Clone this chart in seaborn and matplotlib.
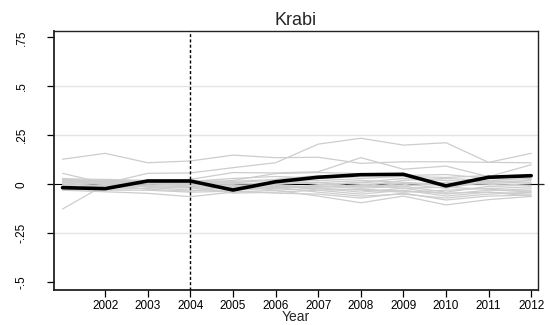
import numpy as np
import pandas as pd
import matplotlib
matplotlib.use("Agg")
import matplotlib.pyplot as plt
import seaborn as sns

years = list(range(2001, 2013))

treated = [-0.017, -0.022, 0.017, 0.017, -0.029, 0.013, 0.036, 0.049, 0.051, -0.008, 0.036, 0.044]

placebo_a = [0.128, 0.158, 0.110, 0.119, 0.149, 0.136, 0.138, 0.107, 0.115, 0.115, 0.112, 0.110]
placebo_b = [0.056, 0.005, 0.056, 0.058, 0.085, 0.110, 0.205, 0.235, 0.200, 0.212, 0.112, 0.158]
placebo_c = [0.030, 0.010, 0.020, 0.025, 0.060, 0.058, 0.064, 0.136, 0.077, 0.093, 0.039, 0.100]
placebo_d = [-0.126, -0.002, 0.010, 0.005, 0.020, 0.055, 0.060, 0.055, 0.045, 0.050, 0.030, 0.040]
placebo_e = [-0.030, -0.038, -0.046, -0.063, -0.040, -0.030, -0.060, -0.094, -0.060, -0.105, -0.078, -0.062]
placebo_f = [0.025, 0.015, 0.005, -0.010, -0.015, 0.000, -0.030, -0.050, -0.030, -0.060, -0.040, -0.050]
placebo_g = [0.020, 0.018, 0.010, 0.000, 0.000, 0.010, 0.020, 0.010, 0.030, 0.020, 0.010, 0.020]
placebo_h = [0.015, 0.012, -0.010, -0.020, -0.020, -0.010, -0.020, -0.030, -0.040, -0.030, -0.020, -0.030]
placebo_i = [0.010, 0.005, 0.000, 0.010, 0.005, 0.000, 0.010, 0.000, -0.010, 0.010, 0.000, -0.010]
placebo_j = [0.005, 0.020, 0.015, 0.005, -0.010, -0.020, -0.010, -0.020, -0.010, -0.040, -0.010, -0.020]
placebo_k = [0.000, -0.005, 0.005, -0.005, -0.025, -0.015, -0.040, -0.060, -0.050, -0.070, -0.050, -0.040]
placebo_l = [-0.005, 0.010, -0.015, -0.030, -0.030, -0.020, -0.005, 0.010, 0.000, -0.020, 0.015, 0.005]
placebo_m = [-0.010, -0.015, -0.005, 0.000, 0.010, 0.020, 0.000, -0.010, 0.020, 0.030, 0.020, 0.010]
placebo_n = [-0.015, -0.025, -0.020, -0.015, -0.005, -0.030, -0.020, -0.040, -0.020, -0.050, -0.030, -0.035]
placebo_o = [-0.020, 0.000, 0.010, 0.015, 0.030, 0.040, 0.030, 0.020, 0.010, 0.000, 0.020, 0.030]
placebo_p = [0.028, 0.025, 0.020, 0.015, 0.010, -0.005, -0.015, -0.005, -0.020, -0.015, -0.025, -0.040]
placebo_q = [-0.025, -0.030, -0.030, -0.040, -0.035, -0.045, -0.050, -0.070, -0.045, -0.080, -0.060, -0.055]
placebo_r = [0.018, 0.000, -0.025, -0.035, -0.010, 0.005, 0.010, -0.015, 0.005, -0.005, 0.005, -0.005]
placebo_s = [-0.008, 0.008, 0.003, 0.020, 0.015, 0.025, 0.045, 0.030, 0.040, 0.035, 0.045, 0.025]
placebo_t = [0.012, -0.020, -0.008, -0.012, -0.045, -0.040, -0.030, -0.025, -0.035, -0.045, -0.040, -0.060]

placebos = [placebo_a, placebo_b, placebo_c, placebo_d, placebo_e, placebo_f, placebo_g,
            placebo_h, placebo_i, placebo_j, placebo_k, placebo_l, placebo_m, placebo_n,
            placebo_o, placebo_p, placebo_q, placebo_r, placebo_s, placebo_t]

x_ticks = list(range(2002, 2013))
y_ticks = [-0.5, -0.25, 0, 0.25, 0.5, 0.75]
y_tick_labels = ["-.5", "-.25", "0", ".25", ".5", ".75"]
grid_vals = [-0.25, 0.25, 0.5]
treat_year = 2004

rows = []
for i, vals in enumerate(placebos):
    for yr, v in zip(years, vals):
        rows.append({"unit": i, "year": yr, "value": v})
df_p = pd.DataFrame(rows)
df_t = pd.DataFrame({"year": years, "value": treated})

sns.set_style("white")
plt.rcParams["font.family"] = ["Liberation Sans", "DejaVu Sans"]

fig = plt.figure(figsize=(5.5, 3.25), dpi=100)
ax = fig.add_axes([54 / 550, 1 - 290 / 325, (538 - 54) / 550, (290 - 31) / 325])

for g in grid_vals:
    ax.axhline(g, color="#e4e4e4", lw=1.0, zorder=0)
ax.axhline(0, color="black", lw=0.8, zorder=1)

sns.lineplot(data=df_p, x="year", y="value", units="unit", estimator=None,
             color="#cdcdcd", lw=0.9, ax=ax, zorder=2, legend=False)
sns.lineplot(data=df_t, x="year", y="value", color="black", lw=2.6, ax=ax, zorder=4)

ax.axvline(treat_year, color="black", lw=1.0, ls=(0, (2.2, 1.6)), zorder=5)

ax.set_xlim(2000.8, 2012.16)
ax.set_ylim(-0.539, 0.782)
ax.set_xticks(x_ticks)
ax.set_xticklabels([str(t) for t in x_ticks], fontsize=8.5)
ax.set_yticks(y_ticks)
ax.set_yticklabels(y_tick_labels, fontsize=8.5, rotation=90, va="center")
ax.tick_params(axis="both", direction="out", length=5, width=0.9, colors="black",
               bottom=True, left=True, pad=3)
ax.tick_params(axis="x", pad=2)
ax.tick_params(axis="y", pad=14)

for s in ax.spines.values():
    s.set_color("#222222")
    s.set_linewidth(1.0)
ax.spines["left"].set_linewidth(1.3)
ax.spines["bottom"].set_linewidth(1.3)

sec = ax.secondary_yaxis("right")
sec.set_yticks([0])
sec.set_yticklabels([""])
sec.tick_params(direction="out", length=4, width=0.9)
sec.spines["right"].set_visible(False)

ax.set_xlabel("Year", fontsize=10, labelpad=-1.5)
ax.set_ylabel("")
ax.set_title("Krabi", fontsize=13, pad=4)

fig.savefig("out.png", dpi=100)
